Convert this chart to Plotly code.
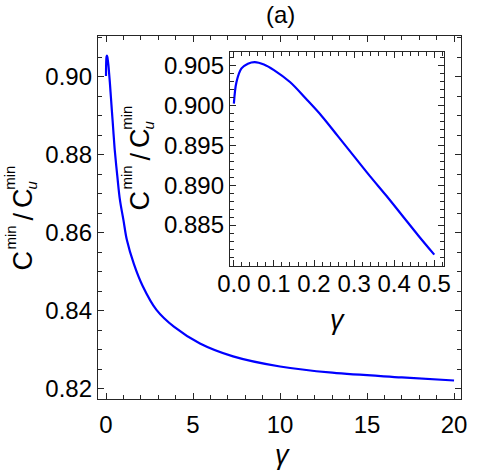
import plotly.graph_objects as go

# ---- data ----
main_gamma = [0, 0.0065, 0.019, 0.035, 0.052, 0.075, 0.1, 0.14, 0.18, 0.22, 0.26, 0.3,
              0.34, 0.38, 0.42, 0.46, 0.5, 0.65, 0.8, 1.0, 1.2, 1.6, 2.1, 2.9, 3.9,
              5.4, 7.3, 10, 13, 17, 20]
main_ratio = [0.9002, 0.9029, 0.9046, 0.9052, 0.9054, 0.9051, 0.9044, 0.9029, 0.9008,
              0.8986, 0.8961, 0.8936, 0.8911, 0.8887, 0.8862, 0.8837, 0.8813, 0.8745,
              0.8684, 0.8633, 0.8581, 0.8520, 0.8464, 0.8402, 0.8359, 0.8316, 0.8283,
              0.8257, 0.8241, 0.8229, 0.8221]

inset_gamma = [0, 0.0065, 0.019, 0.035, 0.052, 0.075, 0.1, 0.14, 0.18, 0.22, 0.26,
               0.3, 0.34, 0.38, 0.42, 0.46, 0.5]
inset_ratio = [0.9002, 0.9029, 0.9046, 0.9052, 0.9054, 0.9051, 0.9044, 0.9029, 0.9008,
               0.8986, 0.8961, 0.8936, 0.8911, 0.8887, 0.8862, 0.8837, 0.8813]

main_xticks = [0, 5, 10, 15, 20]
main_yticks = [0.82, 0.84, 0.86, 0.88, 0.90]
inset_xticks = [0.0, 0.1, 0.2, 0.3, 0.4, 0.5]
inset_yticks = [0.885, 0.890, 0.895, 0.900, 0.905]

title_text = "(a)"
x_title = "<i>γ</i>"
# y label pieces: C^min / C_u^min  (superscript stacked over subscript)
ylab_C = "C"
ylab_sup = "min"
ylab_slash = "/"
ylab_sub = "<i>u</i>"

FONT = "Liberation Sans, Arial, sans-serif"
FRAME = "#262626"
BLUE = "#0000FF"
W, H = 500, 472
ML, MR, MT, MB = 98, 39, 36, 73
PW, PH = W - ML - MR, H - MT - MB

fig = go.Figure()
fig.add_trace(go.Scatter(x=main_gamma, y=main_ratio, mode="lines",
                         line=dict(color=BLUE, width=2.2, shape="spline", smoothing=1.0),
                         xaxis="x", yaxis="y", showlegend=False, hoverinfo="skip"))
fig.add_trace(go.Scatter(x=inset_gamma, y=inset_ratio, mode="lines",
                         line=dict(color=BLUE, width=2.2, shape="spline", smoothing=1.0),
                         xaxis="x2", yaxis="y2", showlegend=False, hoverinfo="skip"))


def axis(rng, tickvals, fmt, minor_dtick, domain, anchor, standoff):
    return dict(
        range=rng, domain=domain, anchor=anchor,
        tickmode="array", tickvals=tickvals, tickformat=fmt,
        ticks="inside", ticklen=6, tickwidth=1, tickcolor=FRAME,
        minor=dict(ticks="inside", dtick=minor_dtick, ticklen=3.5, tickwidth=1,
                   tickcolor=FRAME, showgrid=False),
        showline=True, linecolor=FRAME, linewidth=1.3, mirror="ticks",
        showgrid=False, zeroline=False,
        tickfont=dict(family=FONT, size=24, color="black"),
        ticklabelstandoff=standoff,
    )


xa = axis([-0.46, 20.4], main_xticks, "d", 1, [0, 1], "y", 4)
ya = axis([0.81736, 0.91044], main_yticks, ".2f", 0.005, [0, 1], "x", 0)
xa2 = axis([-0.0097, 0.5243], inset_xticks, ".1f", 0.02,
           [(230 - ML) / PW, (444 - ML) / PW], "y2", -4)
ya2 = axis([0.87988, 0.90666], inset_yticks, ".3f", 0.001,
           [(H - MB - 266) / PH, (H - MB - 52) / PH], "x2", 0)


def ann(text, px, py, size, angle=0):
    return dict(text=text, x=(px - ML) / PW, y=(H - MB - py) / PH,
                xref="paper", yref="paper", xanchor="center", yanchor="middle",
                showarrow=False, textangle=angle,
                font=dict(family=FONT, size=size, color="black"))


def ylabel(cx, cy):
    # cx: x centre of the "C" glyphs, cy: y centre of the lower "C"
    return [
        ann(ylab_C, cx, cy, 27, -90),
        ann(ylab_sup, cx - 13, cy - 23, 15, -90),
        ann(ylab_slash, cx + 1, cy - 44, 27, -90),
        ann(ylab_C, cx, cy - 62.5, 27, -90),
        ann(ylab_sub, cx + 8, cy - 76, 15, -90),
        ann(ylab_sup, cx - 13, cy - 82.7, 15, -90),
    ]


annotations = [ann(title_text, 280, 14.5, 24),
               ann(x_title, 282, 455, 27),
               ann(x_title, 337, 320, 27)]
annotations += ylabel(22.5, 261)
annotations += ylabel(139.5, 201)

fig.update_layout(
    width=W, height=H,
    margin=dict(l=ML, r=MR, t=MT, b=MB),
    paper_bgcolor="white", plot_bgcolor="white",
    xaxis=xa, yaxis=ya, xaxis2=xa2, yaxis2=ya2,
    annotations=annotations,
)

fig.write_html("out.html",
               config={"displayModeBar": False},
               post_script="document.body.style.margin='0';"
                           "document.body.style.overflow='hidden';")
